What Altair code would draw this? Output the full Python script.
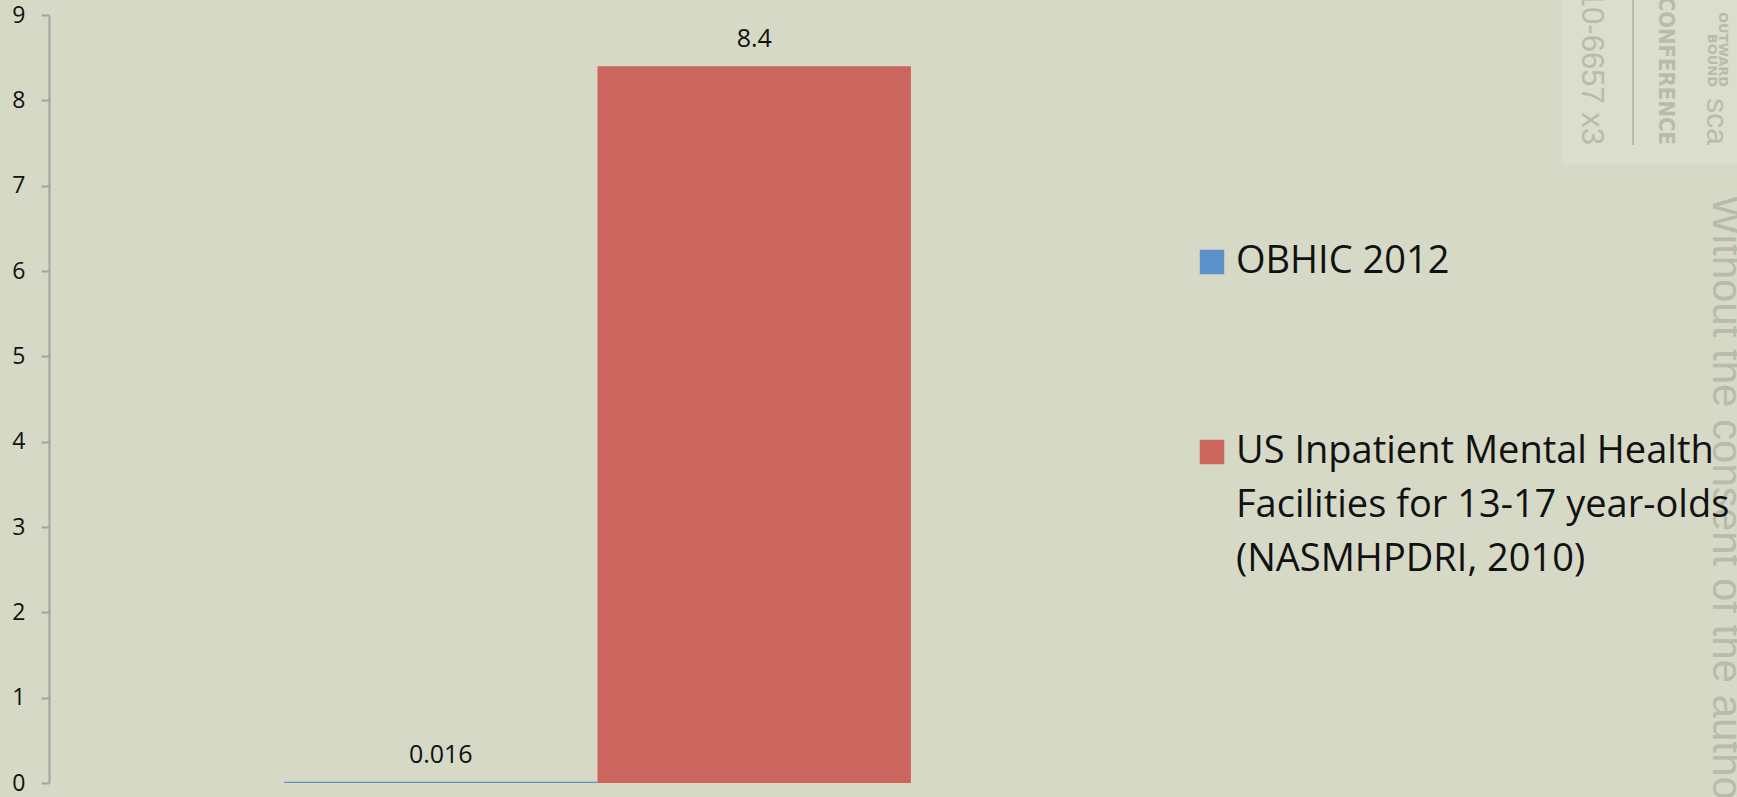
import altair as alt
import pandas as pd

# ---- data ----
category = ["Rate"]
series = ["OBHIC 2012", "US Inpatient Mental Health Facilities for 13-17 year-olds (NASMHPDRI, 2010)"]
values = [0.016, 8.4]
value_labels = ["0.016", "8.4"]
legend_lines = ["US Inpatient Mental Health", "Facilities for 13-17 year-olds", "(NASMHPDRI, 2010)"]
y_ticks = [0, 1, 2, 3, 4, 5, 6, 7, 8, 9]
colors = ["#5c90c8", "#cc655e"]

watermark_side = ["Without the consent of the author"]
watermark_box = ["10-6657 x3", "CONFERENCE", "sca", "OUTWARD", "BOUND"]

df = pd.DataFrame({
    "cat": category * len(series),
    "series": series,
    "value": values,
    "label": value_labels,
})

BG = "#d6d9c6"
FONT = "Open Sans"
WM = "#b8bbaa"

label_expr = (
    "datum.label == '" + series[0] + "' ? datum.label : "
    + "[" + ", ".join("'" + s + "'" for s in legend_lines) + "]"
)

base = alt.Chart(df).encode(
    x=alt.X("cat:N", axis=None, scale=alt.Scale(paddingInner=0, paddingOuter=0.375)),
    xOffset=alt.XOffset("series:N", scale=alt.Scale(domain=series, paddingInner=0, paddingOuter=0)),
)

bars = base.mark_bar(strokeWidth=0).encode(
    y=alt.Y(
        "value:Q",
        scale=alt.Scale(domain=[0, 9], nice=False),
        axis=alt.Axis(
            values=y_ticks, format="d", title=None, grid=False,
            domainColor="#a2a2a0", domainWidth=2,
            tickColor="#a2a2a0", tickWidth=2, tickSize=8,
            labelFont=FONT, labelFontSize=23, labelColor="#111111",
            labelPadding=16,
        ),
    ),
    color=alt.Color(
        "series:N",
        scale=alt.Scale(domain=series, range=colors),
        legend=alt.Legend(
            title=None, orient="none", legendX=1144, legendY=228,
            symbolType="square", symbolSize=600, symbolStrokeWidth=0, symbolOpacity=1,
            labelFont=FONT, labelFontSize=38, labelColor="#111111",
            labelLimit=800, labelOffset=5, labelBaseline="middle",
            labelExpr=label_expr, rowPadding=152, padding=0, offset=0,
        ),
    ),
)

texts = base.mark_text(
    baseline="alphabetic", dy=-19, font=FONT, fontSize=25, color="#111111"
).encode(
    y=alt.Y("value:Q"),
    text=alt.Text("label:N"),
)

# ---- watermark decorations (outside the data) ----
def wm_text(txt, x, y, size, font="Liberation Sans", weight="normal"):
    return alt.Chart(pd.DataFrame({"t": [txt]})).mark_text(
        angle=90, align="right", baseline="alphabetic", font=font,
        fontWeight=weight, fontSize=size, color=WM,
    ).encode(text="t:N", x=alt.value(x), y=alt.value(y))

wm_side = alt.Chart(pd.DataFrame({"t": watermark_side})).mark_text(
    angle=90, align="left", baseline="alphabetic", font="Liberation Sans",
    fontSize=42, color=WM,
).encode(text="t:N", x=alt.value(1664), y=alt.value(180))

wm_rect = alt.Chart(pd.DataFrame({"t": ["box"]})).mark_rect(
    color="#dbddcd", clip=False
).encode(x=alt.value(1513), x2=alt.value(1700), y=alt.value(-15), y2=alt.value(149))

wm_rule = alt.Chart(pd.DataFrame({"t": ["line"]})).mark_rule(
    color=WM, strokeWidth=2
).encode(x=alt.value(1584), y=alt.value(-15), y2=alt.value(130))

wm_t1 = wm_text(watermark_box[0], 1533, 130, 31)
wm_t2 = wm_text(watermark_box[1], 1610, 130, 22, font="DejaVu Sans Condensed", weight="bold")
wm_t3 = wm_text(watermark_box[2], 1658, 130, 30)
wm_t4 = wm_text(watermark_box[3], 1670, 72, 13, font="DejaVu Sans", weight="bold")
wm_t5 = wm_text(watermark_box[4], 1659, 72, 13, font="DejaVu Sans", weight="bold")

chart = alt.layer(
    wm_rect, wm_rule, wm_t1, wm_t2, wm_t3, wm_t4, wm_t5, bars, texts, wm_side
).properties(
    width=1097, height=768,
    background=BG,
    padding={"left": 49, "top": 15, "right": 591, "bottom": 14},
    autosize=alt.AutoSizeParams(type="none"),
).configure(
    style={"guide-label": {"lineHeight": 54}}
).configure_view(stroke=None)

chart.save("out.html", embed_options={"renderer": "svg", "actions": False})
